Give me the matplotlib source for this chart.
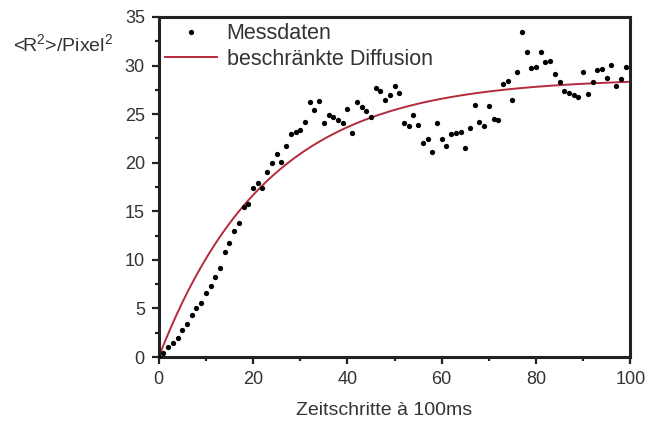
import numpy as np
import matplotlib
matplotlib.use('Agg')
import matplotlib.pyplot as plt
from matplotlib.ticker import MultipleLocator

plt.rcParams['font.family'] = ['Liberation Sans', 'DejaVu Sans']
plt.rcParams['mathtext.fontset'] = 'custom'
plt.rcParams['mathtext.rm'] = 'Liberation Sans'
plt.rcParams['mathtext.it'] = 'Liberation Sans'

# Messdaten: Zeitschritt, mittleres Verschiebungsquadrat
steps = list(range(100))
r2 = [0.0, 0.4, 1.0, 1.4, 2.0, 2.8, 3.4, 4.3, 5.0, 5.6,
      6.6, 7.3, 8.2, 9.2, 10.8, 11.7, 13.0, 13.8, 15.4, 15.7,
      17.4, 17.9, 17.4, 19.0, 20.0, 20.9, 20.1, 21.7, 23.0, 23.2,
      23.4, 24.2, 26.3, 25.4, 26.4, 24.1, 24.9, 24.7, 24.4, 24.1,
      25.5, 23.1, 26.2, 25.7, 25.3, 24.7, 27.7, 27.4, 26.5, 27.0,
      27.9, 27.2, 24.1, 23.8, 24.9, 23.9, 22.0, 22.4, 21.1, 24.1,
      22.4, 21.7, 23.0, 23.1, 23.2, 21.5, 23.6, 25.9, 24.2, 23.8,
      25.8, 24.5, 24.4, 28.1, 28.4, 26.5, 29.3, 33.5, 31.4, 29.7,
      29.9, 31.4, 30.4, 30.5, 29.1, 28.3, 27.4, 27.2, 27.0, 26.8,
      29.3, 27.1, 28.3, 29.5, 29.6, 28.7, 30.1, 27.9, 28.6, 29.9]

# Fitparameter beschraenkte Diffusion: R2 = A * (1 - exp(-t / tau))
fit_amp = 28.7
fit_tau = 23.0

text_color = '#333333'
fig = plt.figure(figsize=(6.67, 4.25), dpi=100)
ax = fig.add_axes([0.238, 0.160, 0.707, 0.800])

t_fit = np.linspace(0, 100, 400)
ax.plot(steps, r2, 'o', color='black', markersize=3.8, markeredgewidth=0,
        label='Messdaten', zorder=3)
ax.plot(t_fit, fit_amp * (1 - np.exp(-t_fit / fit_tau)), '-', color='#b52a3c',
        linewidth=1.4, label='beschränkte Diffusion', zorder=2)

ax.set_xlim(0, 100)
ax.set_ylim(0, 35)
ax.xaxis.set_major_locator(MultipleLocator(20))
ax.xaxis.set_minor_locator(MultipleLocator(10))
ax.yaxis.set_major_locator(MultipleLocator(5))
ax.yaxis.set_minor_locator(MultipleLocator(2.5))
ax.tick_params(which='both', direction='out', colors='#222222', width=1.6,
               labelcolor=text_color, labelsize=13, pad=5)
ax.tick_params(which='major', length=5)
ax.tick_params(which='minor', length=3)
for side in ax.spines.values():
    side.set_linewidth(2.2)
    side.set_color('#222222')

leg = ax.legend(loc='upper left', frameon=False, fontsize=15.5, handlelength=2.4,
                handletextpad=0.45, borderaxespad=0.1, labelspacing=0.2,
                borderpad=0.2)
for txt in leg.get_texts():
    txt.set_color(text_color)

fig.text(0.0195, 0.896, r'<R$^2$>/Pixel$^2$', fontsize=14, color=text_color,
         va='center')
fig.text(0.576, 0.035, 'Zeitschritte à 100ms', fontsize=14, color=text_color,
         ha='center', va='center')

fig.savefig('out.png', dpi=100)
